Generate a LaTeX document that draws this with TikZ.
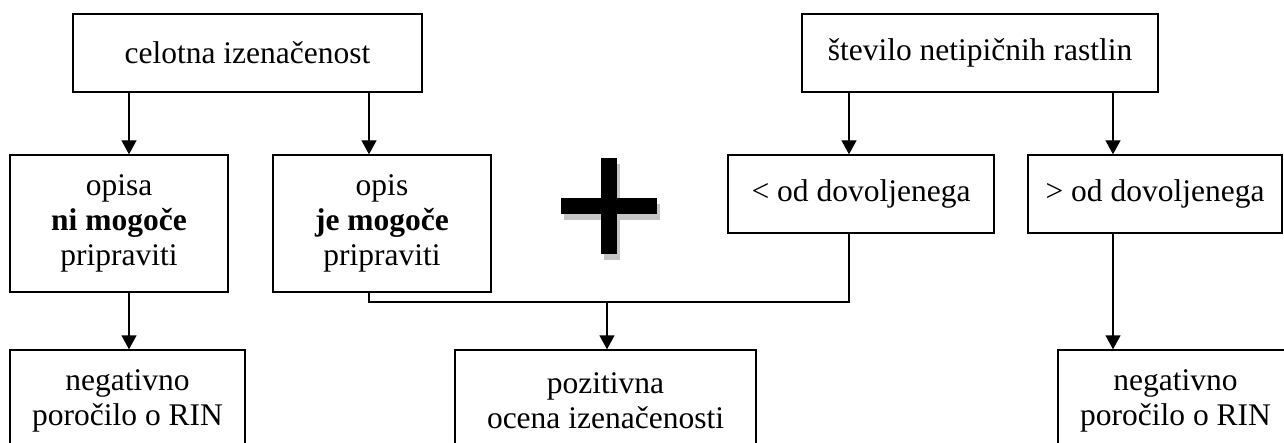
\documentclass[tikz,border=0pt]{standalone}
\usepackage{fontspec}
\setmainfont{Liberation Serif}
\usetikzlibrary{arrows.meta}

\begin{document}
\begin{tikzpicture}
				[x=1pt, y=-1pt,
				box/.style = {draw, line width=1.4pt, align=center, inner sep=0pt,
				font=\fontsize{31.5}{35}\selectfont},
				arr/.style = {line width=1.4pt, -{Triangle[width=15pt,length=14pt]}},
				link/.style = {line width=1.4pt}]
				\useasboundingbox (0,0) rectangle (1284,443);
				\clip (0,0) rectangle (1284,443);
				% top row
				\node[box, minimum width=349, minimum height=78] (celotna) at (247.5,53) {celotna izenačenost};
				\node[box, minimum width=356, minimum height=78] (stevilo) at (980,53) {število netipičnih rastlin};
				% middle row
				\node[box, minimum width=218, minimum height=137] (ni) at (119,223.5) {opisa\\\textbf{ni mogoče}\\pripraviti};
				\node[box, minimum width=218, minimum height=137] (je) at (382,223.5) {opis\\\textbf{je mogoče}\\pripraviti};
				\node[box, minimum width=266, minimum height=78] (manj) at (861,194) {< od dovoljenega};
				\node[box, minimum width=254, minimum height=78] (vecje) at (1155,194) {> od dovoljenega};
				% bottom row
				\node[box, minimum width=235, minimum height=102] (neg1) at (127.5,401) {negativno\\poročilo o RIN};
				\node[box, minimum width=301, minimum height=102] (poz) at (605.5,401) {pozitivna\\ocena izenačenosti};
				\node[box, minimum width=235, minimum height=102] (neg2) at (1175.5,401) {negativno\\poročilo o RIN};
				% columns of the arrows
				\coordinate (c1) at (129,0);
				\coordinate (c2) at (369,0);
				\coordinate (c3) at (849,0);
				\coordinate (c4) at (1113,0);
				\coordinate (join) at (607,302);
				\draw[arr] (celotna.south -| c1) -- (ni.north -| c1);
				\draw[arr] (celotna.south -| c2) -- (je.north -| c2);
				\draw[arr] (stevilo.south -| c3) -- (manj.north -| c3);
				\draw[arr] (stevilo.south -| c4) -- (vecje.north -| c4);
				\draw[arr] (ni.south -| c1) -- (neg1.north -| c1);
				\draw[arr] (vecje.south -| c4) -- (neg2.north -| c4);
				\draw[link] (je.south -| c2) |- (join) -| (manj.south -| c3);
				\draw[arr] (join) -- (poz.north -| join);
				% plus sign with shadow
				\fill[gray!45] (564,204) rectangle (660,220);
				\fill[gray!45] (604,164) rectangle (620,260);
				\fill[black] (561,198) rectangle (657,214);
				\fill[black] (601,158) rectangle (617,254);
			\end{tikzpicture}
\end{document}
